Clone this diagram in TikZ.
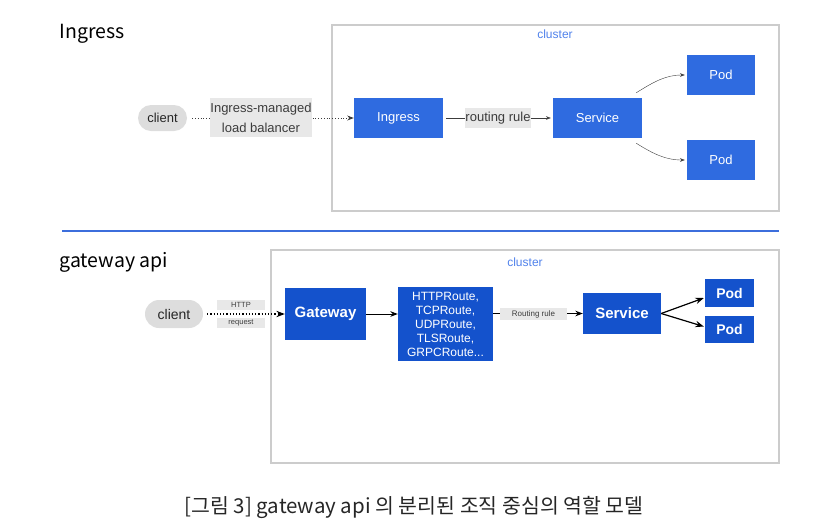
\documentclass[tikz,border=0pt]{standalone}
\usepackage{fontspec}
\setmainfont{Liberation Sans}
\newfontfamily\krfont{Noto Sans CJK KR}
\usetikzlibrary{arrows.meta,positioning,calc}
\definecolor{ingblue}  {RGB}{47,107,224}
\definecolor{gwblue}   {RGB}{20,82,204}
\definecolor{lblgray}  {RGB}{232,232,232}
\definecolor{pillgray} {RGB}{221,221,221}
\definecolor{framegray}{RGB}{204,204,204}
\definecolor{clublue}  {RGB}{80,130,235}
\definecolor{sepblue}  {RGB}{60,110,220}
\definecolor{txtgray}  {RGB}{60,60,60}

\begin{document}
\begin{tikzpicture}[x=1pt,y=-1pt,>=Stealth,
    ibox/.style={fill=ingblue,text=white,inner sep=0pt,minimum width=89pt,minimum height=40pt,
                 font=\fontsize{13}{15}\selectfont},
    gbox/.style={fill=gwblue,text=white,inner sep=0pt,font=\bfseries\fontsize{15}{17}\selectfont},
    pill/.style={fill=pillgray,inner sep=0pt,text=black!85},
    lbl/.style={fill=lblgray,inner sep=0pt,text=txtgray},
    frame/.style={draw=framegray,line width=1.5pt},
    clu/.style={text=clublue,font=\fontsize{12}{14}\selectfont},
    title/.style={anchor=west,font=\krfont\fontsize{19.5}{22}\selectfont}]
  \useasboundingbox (0,0) rectangle (828,531);

  % --- Ingress ---
  \node[title] (ttl1) at (56,34) {Ingress};
  \draw[frame] (332,25) rectangle (779,211);
  \node[clu] (clu1) at (555,34) {cluster};
  \node[pill,rounded corners=13pt,minimum width=49pt,minimum height=26pt,
        font=\fontsize{13}{15}\selectfont] (cli1) at (162.5,118) {client};
  \node[ibox] (ing) at (398.5,118) {Ingress};
  \node[ibox] (svc1) at (597.5,118) {Service};
  \node[ibox,minimum width=68pt] (poda) at (721,75) {Pod};
  \node[ibox,minimum width=68pt] (podb) at (721,160) {Pod};
  \draw[->,dotted,thick,txtgray,shorten <=5pt] (cli1) -- (ing);
  \node[lbl,minimum width=102pt,minimum height=39pt,align=center,
        font=\fontsize{13}{20}\selectfont] (lb) at (261,117.5) {Ingress-managed\\load balancer};
  \draw[->,txtgray,shorten <=3pt,shorten >=2pt] (ing) -- (svc1);
  \node[lbl,minimum width=66pt,minimum height=20pt,font=\fontsize{13}{15}\selectfont]
    (rr1) at (498,118) {routing rule};
  \draw[->,txtgray,shorten >=2pt] ([xshift=-6pt,yshift=5pt]svc1.north east)
    to[out=32,in=180] (poda.west);
  \draw[->,txtgray,shorten >=2pt] ([xshift=-6pt,yshift=-5pt]svc1.south east)
    to[out=-32,in=180] (podb.west);

  \draw[sepblue,line width=1.2pt] (62,231) -- (779,231);

  % --- gateway api ---
  \node[title] (ttl2) at (56,262) {gateway api};
  \draw[frame] (271,250) rectangle (779,463);
  \node[clu] (clu2) at (525,262) {cluster};
  \node[pill,rounded corners=14pt,minimum width=58pt,minimum height=28pt,
        font=\fontsize{14}{16}\selectfont] (cli2) at (174,314) {client};
  \node[gbox,minimum width=81pt,minimum height=52pt] (gw) at (325.5,314) {Gateway};
  \node[fill=gwblue,text=white,inner sep=0pt,minimum width=95pt,minimum height=74pt,
        align=center,font=\fontsize{12}{14}\selectfont] (rts) at (445.5,324)
    {HTTPRoute,\\TCPRoute,\\UDPRoute,\\TLSRoute,\\GRPCRoute...};
  \node[gbox,minimum width=78pt,minimum height=41pt] (svc2) at (622,313.5) {Service};
  \node[gbox,minimum width=49pt,minimum height=28pt,font=\bfseries\fontsize{14}{16}\selectfont]
    (podc) at (729.5,293) {Pod};
  \node[gbox,minimum width=49pt,minimum height=27pt,font=\bfseries\fontsize{14}{16}\selectfont]
    (podd) at (729.5,329.5) {Pod};
  \draw[->,dotted,line width=1.2pt,shorten <=4pt] (cli2) -- (gw);
  \node[lbl,minimum width=48pt,minimum height=10pt,font=\fontsize{7.5}{8}\selectfont]
    (http) at (241,305) {HTTP};
  \node[lbl,minimum width=48pt,minimum height=10pt,font=\fontsize{7.5}{8}\selectfont]
    (req) at (241,323) {request};
  \draw[->,line width=1pt] (gw.east) -- (gw.east -| rts.west);
  \draw[->,line width=1pt] (rts.east |- svc2.west) -- (svc2.west);
  \node[lbl,minimum width=67pt,minimum height=12pt,font=\fontsize{8}{9}\selectfont]
    (rr2) at (533.5,314) {Routing rule};
  \draw[->,line width=1.2pt] (svc2.east) -- ([xshift=-1pt,yshift=-5pt]podc.west);
  \draw[->,line width=1.2pt] (svc2.east) -- ([xshift=-1pt,yshift=3pt]podd.west);

  % caption
  \node[font=\krfont\fontsize{20.5}{24}\selectfont,text=black!85] (cap) at (414,507)
    {[그림 3] gateway api 의 분리된 조직 중심의 역할 모델};
\end{tikzpicture}
\end{document}
